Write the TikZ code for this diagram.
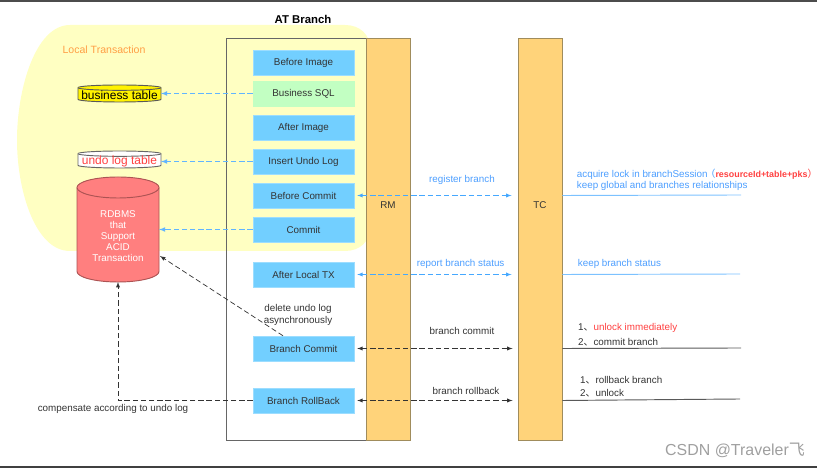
\documentclass[tikz,border=0pt]{standalone}
\usepackage{fontspec}
\setmainfont{Liberation Sans}
\newfontfamily\cjk{Noto Sans CJK SC}
\usepackage{tikz}
\usetikzlibrary{shapes,arrows,positioning}

\definecolor{skybox}{HTML}{72CFFF}
\definecolor{greenbox}{HTML}{C2FFC2}
\definecolor{lemon}{HTML}{FFFFC2}
\definecolor{bar}{HTML}{FFD37A}
\definecolor{barline}{HTML}{A08C5C}
\definecolor{redcyl}{HTML}{FF7F7F}
\definecolor{arrowblue}{HTML}{45A8FF}
\definecolor{ruleblue}{HTML}{7CC2FF}
\definecolor{textblue}{HTML}{4C9EFF}
\definecolor{textred}{HTML}{FF4040}
\definecolor{textorange}{HTML}{FF9F45}
\definecolor{inkgrey}{HTML}{333333}

% drum outline round a node: style, node, x radius, y radius
\newcommand{\drum}[4]{%
\draw[#1] ([yshift=-#4cm]#2.north east) arc[start angle=0,end angle=180,x radius=#3cm,y radius=#4cm]
 -- ([yshift=#4cm]#2.south west) arc[start angle=180,end angle=360,x radius=#3cm,y radius=#4cm] -- cycle;
\draw[#1] ([yshift=-#4cm]#2.north east) arc[start angle=0,end angle=-180,x radius=#3cm,y radius=#4cm];
}

\begin{document}
\begin{tikzpicture}[scale=1.0]

 \tikzstyle{stepbox}=[draw=skybox!70!white,fill=skybox,inner sep=0cm,minimum width=3.03cm,minimum height=.75cm,
font=\fontsize{8.4}{10}\selectfont,text=inkgrey,node distance=1.02cm]
 \tikzstyle{lane}=[draw=barline,fill=bar,thick,inner sep=0cm,minimum width=1.32cm,minimum height=12.06cm]
 \tikzstyle{tablebody}=[inner sep=0cm,outer sep=0cm,minimum width=2.49cm,minimum height=.51cm]
 \tikzstyle{tablelbl}=[font=\fontsize{10.2}{12}\selectfont,inner sep=0cm,yshift=-.05cm]
 \tikzstyle{lbl}=[font=\fontsize{8.4}{10}\selectfont,text=inkgrey,inner sep=0cm,align=center]
 \tikzstyle{bluelbl}=[lbl,text=textblue]
 \tikzstyle{bluecall}=[dash pattern=on 4.5pt off 2.5pt,arrowblue,line width=.6pt,latex-latex]
 \tikzstyle{bluelocal}=[dash pattern=on 4.5pt off 2.5pt,arrowblue!85!white,line width=.8pt,-latex]
 \tikzstyle{blackcall}=[dash pattern=on 4.5pt off 2.5pt,inkgrey,line width=.6pt,latex-latex]
 \tikzstyle{blackflow}=[dash pattern=on 4.5pt off 2.5pt,inkgrey,line width=.6pt,-latex]

\useasboundingbox (0,0) rectangle (24.51,14.04);

% Window edges
\fill[gray!60!black] (0,13.98) rectangle (24.51,14.04);
\fill[gray!50!black] (0,0) rectangle (24.51,.06);

% Local Transaction
\fill[lemon] (2.1,13.29) .. controls (1.05,13.29) and (.51,11.34) .. (.51,9.84)
 .. controls (.51,8.34) and (1.05,6.51) .. (2.1,6.51) -- (10.35,6.51)
 .. controls (10.8,6.51) and (11.1,6.8) .. (11.1,7.2) -- (11.1,12.6)
 .. controls (11.1,13.0) and (10.8,13.29) .. (10.35,13.29) -- cycle;
\node[font=\fontsize{9}{11}\selectfont,text=textorange,inner sep=0cm] (localtx) at (3.12,12.54) {Local Transaction};

% Branch frame and lanes
\node[draw=gray!80!black,thick,inner sep=0cm,minimum width=4.2cm,minimum height=12.06cm] (frame) at (8.88,6.87) {};
\node[lane] (rm) at (11.64,6.87) {};
\node[lane] (tc) at (16.2,6.87) {};
\node[lbl] (rmlbl) at (11.64,7.89) {RM};
\node[lbl] (tclbl) at (16.2,7.89) {TC};
\node[font=\bfseries\fontsize{9.7}{12}\selectfont,inner sep=0cm] (atbranch) at (9.09,13.47) {AT Branch};

% Steps
\node[stepbox] (beforeimage) at (9.105,12.165) {Before Image};
\node[stepbox,fill=greenbox,draw=greenbox] (bizsql) [node distance=.93cm,below of=beforeimage] {Business SQL};
\node[stepbox] (afterimage) [below of=bizsql] {After Image};
\node[stepbox] (insertundo) [below of=afterimage] {Insert Undo Log};
\node[stepbox] (beforecommit) [below of=insertundo] {Before Commit};
\node[stepbox] (commit) [below of=beforecommit] {Commit};
\node[stepbox] (afterlocal) [node distance=1.35cm,below of=commit] {After Local TX};
\node[stepbox] (branchcommit) [node distance=2.22cm,below of=afterlocal] {Branch Commit};
\node[stepbox] (branchrollback) [node distance=1.56cm,below of=branchcommit] {Branch RollBack};

% Tables
\node[tablebody] (biztable) at (3.585,11.235) {};
\drum{draw=gray!70!black,fill=yellow,thick}{biztable}{1.245}{.08}
\node[tablelbl,text=black] (biztablelbl) at (biztable) {business table};

\node[tablebody] (undotable) at (3.585,9.255) {};
\drum{draw=gray!80!black,fill=white,thick}{undotable}{1.245}{.08}
\node[tablelbl,text=textred] (undotablelbl) at (undotable) {undo log table};

\node[inner sep=0cm,outer sep=0cm,minimum width=2.46cm,minimum height=3.15cm] (rdbms) at (3.54,7.155) {};
\drum{draw=red!35!gray,fill=redcyl,thick}{rdbms}{1.23}{.315}
\node[font=\fontsize{8.4}{9.4}\selectfont,text=white,inner sep=0cm,align=center,yshift=-.2cm] (rdbmslbl) at (rdbms) {RDBMS\\that\\Support\\ACID\\Transaction};

% Local calls
\draw[bluelocal] (bizsql.west) -- (biztable.east);
\draw[bluelocal] (insertundo.west) -- (insertundo.west -| undotable.east);
\draw[bluelocal] (commit.west) -- (commit.west -| rdbms.east);

% Calls to TC
\draw[bluecall,shorten <=.09cm,shorten >=.18cm] (beforecommit.east) -- (beforecommit.east -| tc.west);
\draw[bluecall,shorten <=.09cm,shorten >=.18cm] (afterlocal.east) -- (afterlocal.east -| tc.west);
\draw[blackcall,shorten <=.09cm,shorten >=.15cm] (branchcommit.east) -- (branchcommit.east -| tc.west);
\draw[blackcall,shorten <=.09cm,shorten >=.15cm] (branchrollback.east) -- (branchrollback.east -| tc.west);

\node[bluelbl] (registerlbl) at (13.86,8.64) {register branch};
\node[bluelbl] (reportlbl) at (13.82,6.12) {report branch status};
\node[lbl] (commitlbl) at (13.86,4.11) {branch commit};
\node[lbl] (rollbacklbl) at (13.98,2.31) {branch rollback};

% Back to the database
\draw[blackflow] ([xshift=-.615cm]branchcommit.north) -- (4.8,6.36);
\draw[blackflow] (branchrollback.west) -| (rdbms.south);
\node[lbl] (deletelbl) at (8.94,4.59) {delete undo log\\asynchronously};
\node[lbl] (compensatelbl) at (3.39,1.77) {compensate according to undo log};

% TC side
\coordinate (lockend) at (22.23,8.19);
\coordinate (statusend) at (22.2,5.82);
\coordinate (commitend) at (22.23,3.6);
\coordinate (rollbackend) at (22.2,2.07);
\draw[ruleblue,thick] (tc.east |- beforecommit) -- (lockend);
\draw[ruleblue,thick] (tc.east |- afterlocal) -- (statusend);
\draw[gray!70!black,thick] (tc.east |- branchcommit) -- (commitend);
\draw[gray!70!black,thick] (tc.east |- branchrollback) -- (rollbackend);

\node[bluelbl,anchor=west] (locklbl) at (17.3,8.82) {acquire lock in branchSession\makebox[.8em][r]{\cjk（}\textcolor{textred}{\fontsize{7.6}{10}\selectfont\textbf{resourceId+table+pks}}\makebox[.35em][l]{\cjk\textcolor{textred}{）}}};
\node[bluelbl,anchor=west] (relationlbl) at (17.3,8.46) {keep global and branches relationships};
\node[bluelbl,anchor=west] (keeplbl) at (17.33,6.12) {keep branch status};
\node[lbl,anchor=west] (unlocklbl) at (17.34,4.2) {1{\cjk、}\textcolor{textred}{unlock immediately}};
\node[lbl,anchor=west] (commitbranchlbl) at (17.34,3.78) {2{\cjk、}commit branch};
\node[lbl,anchor=west] (rollbackbranchlbl) at (17.4,2.64) {1{\cjk、}rollback branch};
\node[lbl,anchor=west] (unlocktwolbl) at (17.4,2.25) {2{\cjk、}unlock};

% Watermark
\node[font=\fontsize{13.6}{16}\selectfont,text=gray!75,inner sep=0cm,anchor=west] (mark) at (19.95,.54) {CSDN @Traveler{\cjk 飞}};

\end{tikzpicture}
\end{document}
